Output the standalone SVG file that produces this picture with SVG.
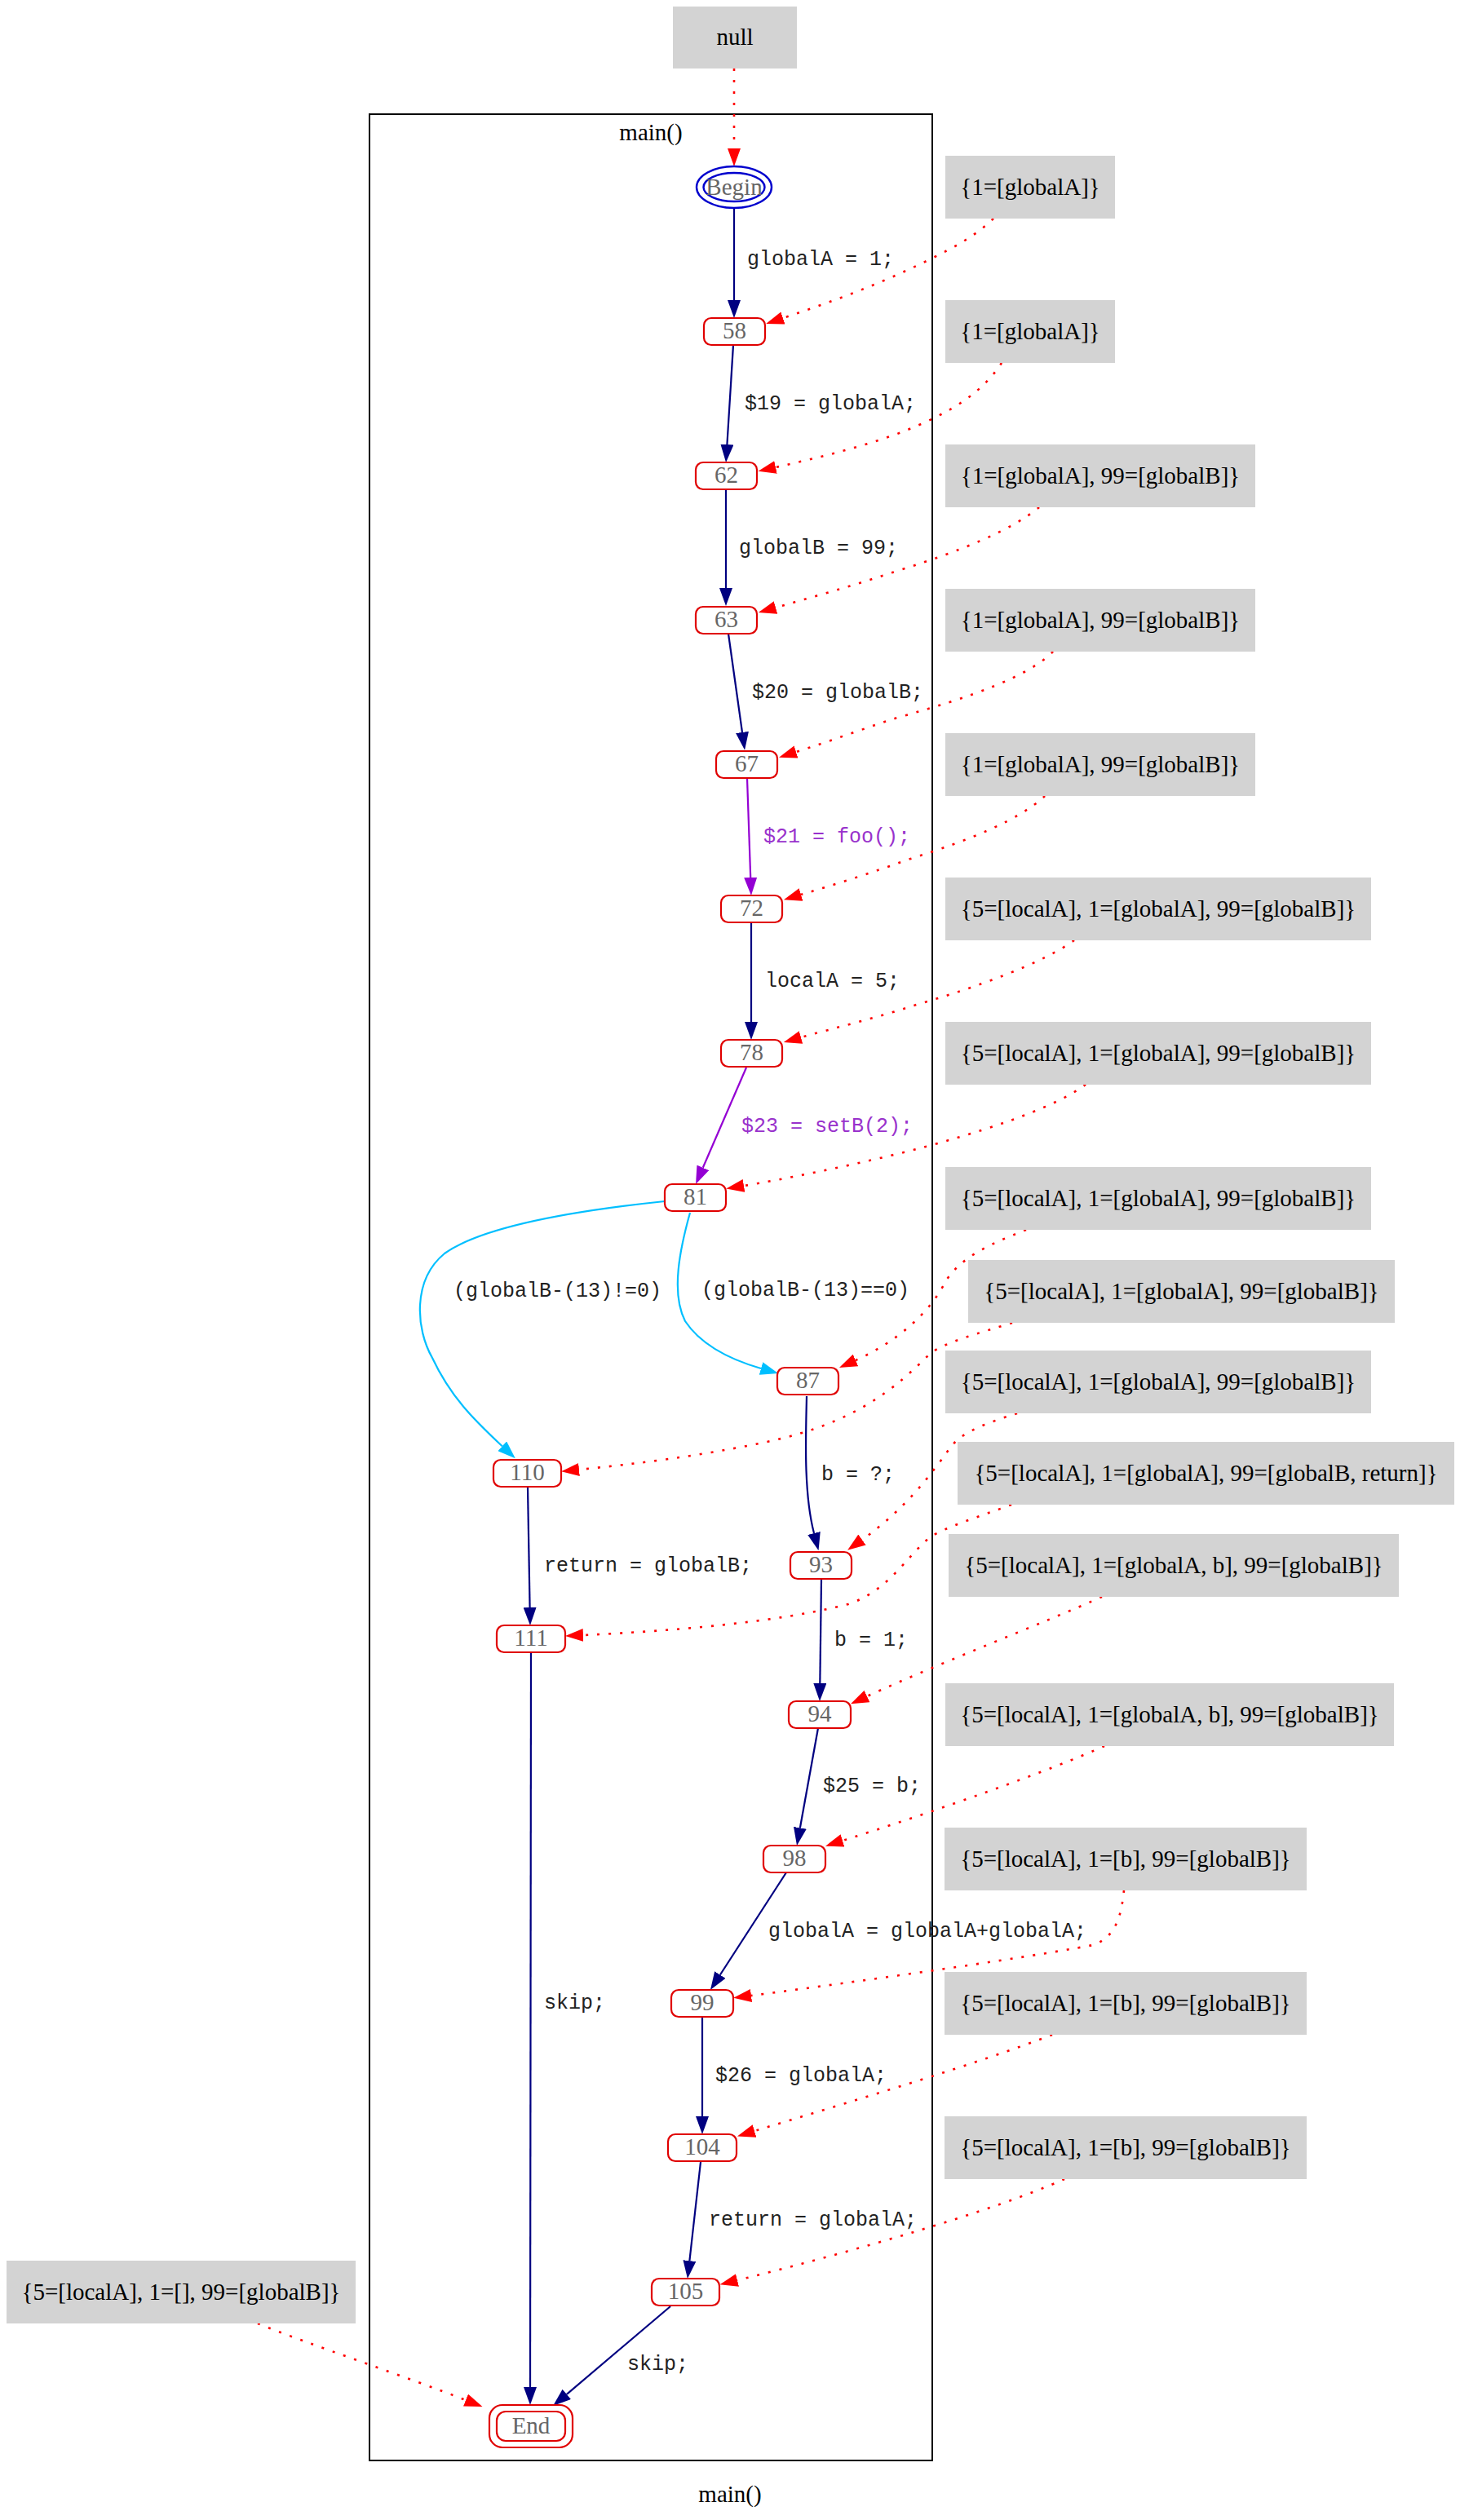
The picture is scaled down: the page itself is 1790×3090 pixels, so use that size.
<svg xmlns="http://www.w3.org/2000/svg" width="1790" height="3090" viewBox="0 0 1790 3090">
<style>
.bg{fill:#fff}
.cl{fill:none;stroke:#000;stroke-width:2}
.st rect{fill:#d3d3d3;stroke:none}
.st text{font-family:"Liberation Serif","Times New Roman",serif;font-size:29px;fill:#000;text-anchor:middle}
.nd rect{fill:#fff;stroke:#e00000;stroke-width:2.2}
.nd text,.be text{font-family:"Liberation Serif","Times New Roman",serif;font-size:29px;fill:#666;text-anchor:middle}
.be ellipse{fill:none;stroke:#0000cd;stroke-width:2.4}
.e{fill:none;stroke-width:2.2}
.nv{stroke:#000080}
.pu{stroke:#9400d3}
.cy{stroke:#00bfff}
.rd{stroke:#ff0000;stroke-width:2.6;stroke-dasharray:3 11}
.lb{font-family:"Liberation Mono","Courier New",monospace;font-size:25px;fill:#222}
.lp{font-family:"Liberation Mono","Courier New",monospace;font-size:25px;fill:#9932cc}
.ttl{font-family:"Liberation Serif","Times New Roman",serif;font-size:29px;fill:#000;text-anchor:middle}
</style>
<defs>
<marker id="aN" markerUnits="userSpaceOnUse" viewBox="0 0 22 16" refX="0" refY="8" markerWidth="22" markerHeight="16" orient="auto"><path d="M0,0 L22,8 L0,16 z" fill="#000080"/></marker>
<marker id="aP" markerUnits="userSpaceOnUse" viewBox="0 0 22 16" refX="0" refY="8" markerWidth="22" markerHeight="16" orient="auto"><path d="M0,0 L22,8 L0,16 z" fill="#9400d3"/></marker>
<marker id="aC" markerUnits="userSpaceOnUse" viewBox="0 0 22 16" refX="0" refY="8" markerWidth="22" markerHeight="16" orient="auto"><path d="M0,0 L22,8 L0,16 z" fill="#00bfff"/></marker>
<marker id="aR" markerUnits="userSpaceOnUse" viewBox="0 0 22 16" refX="0" refY="8" markerWidth="22" markerHeight="16" orient="auto"><path d="M0,0 L22,8 L0,16 z" fill="#ff0000"/></marker>
</defs>
<rect class="bg" x="0" y="0" width="1790" height="3090"/>

<g id="cluster_main">
<rect class="cl" x="453" y="140" width="690" height="2877"/>
<text class="ttl" x="798" y="172">main()</text>
</g>
<text class="ttl" x="895" y="3068">main()</text>

<g id="connectors">
<!-- solid control flow edges -->
<path class="e nv" d="M900,255 L900,368" marker-end="url(#aN)"/>
<path class="e nv" d="M899,423 L891.4,545" marker-end="url(#aN)"/>
<path class="e nv" d="M890,601 L890,721" marker-end="url(#aN)"/>
<path class="e nv" d="M893,777 L910,898" marker-end="url(#aN)"/>
<path class="e pu" d="M916,954 L920.2,1076" marker-end="url(#aP)"/>
<path class="e nv" d="M921,1132 L921,1253" marker-end="url(#aN)"/>
<path class="e pu" d="M915,1309 L861.8,1431.8" marker-end="url(#aP)"/>
<path class="e cy" d="M815,1473 C700,1485 590,1505 545,1537 C505,1570 510,1630 530,1665 C552,1712 580,1740 615.7,1773.3" marker-end="url(#aC)"/>
<path class="e cy" d="M846,1487 C834,1530 822,1585 840,1620 C860,1650 895,1667 933,1678" marker-end="url(#aC)"/>
<path class="e nv" d="M989,1712 C988,1760 985,1830 998,1880" marker-end="url(#aN)"/>
<path class="e nv" d="M1007,1937 L1005.3,2064" marker-end="url(#aN)"/>
<path class="e nv" d="M647,1824 L649.6,1971" marker-end="url(#aN)"/>
<path class="e nv" d="M651,2027 L650,2927" marker-end="url(#aN)"/>
<path class="e nv" d="M1003,2119 L980.9,2241.3" marker-end="url(#aN)"/>
<path class="e nv" d="M964,2296 L882.9,2421.5" marker-end="url(#aN)"/>
<path class="e nv" d="M861,2473 L861,2595" marker-end="url(#aN)"/>
<path class="e nv" d="M859,2651 L845.4,2772.1" marker-end="url(#aN)"/>
<path class="e nv" d="M822,2828 L694.8,2935.8" marker-end="url(#aN)"/>
<!-- dotted state edges -->
<path class="e rd" d="M900,84 L900,182" marker-end="url(#aR)"/>
<path class="e rd" d="M1218,268 C1195,290 1170,303 1140,318 C1080,348 1020,370 960,390" marker-end="url(#aR)"/>
<path class="e rd" d="M1228,445 C1205,480 1170,505 1100,532 C1050,550 1000,562 951,573" marker-end="url(#aR)"/>
<path class="e rd" d="M1274,622 C1240,650 1180,675 1100,700 C1050,717 1000,731 951,745" marker-end="url(#aR)"/>
<path class="e rd" d="M1291,799 C1260,830 1190,855 1100,880 C1060,893 1020,908 976,922" marker-end="url(#aR)"/>
<path class="e rd" d="M1281,976 C1250,1005 1190,1030 1110,1055 C1070,1070 1025,1084 982,1097" marker-end="url(#aR)"/>
<path class="e rd" d="M1317,1153 C1280,1180 1200,1210 1120,1233 C1075,1248 1025,1260 982,1272" marker-end="url(#aR)"/>
<path class="e rd" d="M1331,1330 C1290,1360 1200,1390 1100,1415 C1030,1432 960,1446 912,1454" marker-end="url(#aR)"/>
<path class="e rd" d="M1258,1508 C1215,1525 1180,1540 1160,1570 C1140,1610 1100,1645 1049,1668" marker-end="url(#aR)"/>
<path class="e rd" d="M1241,1622 C1200,1635 1160,1645 1140,1660 C1100,1700 1050,1745 940,1768 C860,1785 780,1795 710,1802" marker-end="url(#aR)"/>
<path class="e rd" d="M1247,1733 C1210,1745 1180,1755 1165,1775 C1140,1810 1110,1850 1057,1888" marker-end="url(#aR)"/>
<path class="e rd" d="M1240,1845 C1200,1860 1160,1872 1140,1885 C1110,1910 1090,1950 1040,1967 C950,1990 820,2000 715,2005" marker-end="url(#aR)"/>
<path class="e rd" d="M1351,1958 C1280,1990 1150,2040 1063,2080" marker-end="url(#aR)"/>
<path class="e rd" d="M1354,2141 C1290,2170 1150,2220 1033,2257" marker-end="url(#aR)"/>
<path class="e rd" d="M1378,2318 C1375,2345 1370,2375 1340,2385 C1250,2402 1050,2430 921,2447" marker-end="url(#aR)"/>
<path class="e rd" d="M1290,2495 C1200,2530 1050,2575 925,2613" marker-end="url(#aR)"/>
<path class="e rd" d="M1305,2672 C1220,2710 1050,2760 904,2796" marker-end="url(#aR)"/>
<path class="e rd" d="M316,2849 C380,2875 500,2915 571,2943" marker-end="url(#aR)"/>
<!-- edge labels -->
<text class="lb" x="916" y="325">globalA = 1;</text>
<text class="lb" x="913" y="502">$19 = globalA;</text>
<text class="lb" x="906" y="679">globalB = 99;</text>
<text class="lb" x="922" y="856">$20 = globalB;</text>
<text class="lp" x="936" y="1033">$21 = foo();</text>
<text class="lb" x="938" y="1210">localA = 5;</text>
<text class="lp" x="909" y="1388">$23 = setB(2);</text>
<text class="lb" x="556" y="1590">(globalB-(13)!=0)</text>
<text class="lb" x="860" y="1589">(globalB-(13)==0)</text>
<text class="lb" x="1007" y="1815">b = ?;</text>
<text class="lb" x="667" y="1927">return = globalB;</text>
<text class="lb" x="1023" y="2018">b = 1;</text>
<text class="lb" x="1009" y="2197">$25 = b;</text>
<text class="lb" x="942" y="2375">globalA = globalA+globalA;</text>
<text class="lb" x="667" y="2463">skip;</text>
<text class="lb" x="877" y="2552">$26 = globalA;</text>
<text class="lb" x="869" y="2729">return = globalA;</text>
<text class="lb" x="769" y="2906">skip;</text>
</g>

<g id="node_begin" class="be">
<ellipse cx="900" cy="229.5" rx="46" ry="25.5"/>
<ellipse cx="900" cy="229.5" rx="37.5" ry="17.5"/>
<text x="900" y="239">Begin</text>
</g>
<g id="node_58" class="nd"><rect x="863" y="390" width="75" height="33" rx="9"/><text x="900.5" y="415">58</text></g>
<g id="node_62" class="nd"><rect x="853" y="567" width="75" height="33" rx="9"/><text x="890.5" y="592">62</text></g>
<g id="node_63" class="nd"><rect x="853" y="744" width="75" height="33" rx="9"/><text x="890.5" y="769">63</text></g>
<g id="node_67" class="nd"><rect x="878" y="921" width="75" height="33" rx="9"/><text x="915.5" y="946">67</text></g>
<g id="node_72" class="nd"><rect x="884" y="1098" width="75" height="33" rx="9"/><text x="921.5" y="1123">72</text></g>
<g id="node_78" class="nd"><rect x="884" y="1275" width="75" height="33" rx="9"/><text x="921.5" y="1300">78</text></g>
<g id="node_81" class="nd"><rect x="815" y="1452" width="75" height="33" rx="9"/><text x="852.5" y="1477">81</text></g>
<g id="node_87" class="nd"><rect x="953" y="1677" width="75" height="33" rx="9"/><text x="990.5" y="1702">87</text></g>
<g id="node_110" class="nd"><rect x="605" y="1790" width="83" height="33" rx="9"/><text x="646.5" y="1815">110</text></g>
<g id="node_93" class="nd"><rect x="969" y="1903" width="75" height="33" rx="9"/><text x="1006.5" y="1928">93</text></g>
<g id="node_111" class="nd"><rect x="609" y="1993" width="84" height="33" rx="9"/><text x="651" y="2018">111</text></g>
<g id="node_94" class="nd"><rect x="967" y="2086" width="76" height="33" rx="9"/><text x="1005" y="2111">94</text></g>
<g id="node_98" class="nd"><rect x="936" y="2263" width="76" height="33" rx="9"/><text x="974" y="2288">98</text></g>
<g id="node_99" class="nd"><rect x="823" y="2440" width="76" height="33" rx="9"/><text x="861" y="2465">99</text></g>
<g id="node_104" class="nd"><rect x="819" y="2617" width="84" height="33" rx="9"/><text x="861" y="2642">104</text></g>
<g id="node_105" class="nd"><rect x="799" y="2794" width="83" height="33" rx="9"/><text x="840.5" y="2819">105</text></g>
<g id="node_end" class="nd">
<rect x="600" y="2949" width="102" height="52" rx="16"/>
<rect x="609" y="2957" width="84" height="36" rx="11"/>
<text x="651" y="2984">End</text>
</g>

<g id="state_null" class="st"><rect x="825" y="8" width="152" height="76"/><text x="901" y="55">null</text></g>
<g id="state_1" class="st"><rect x="1159" y="191" width="208" height="77"/><text x="1263" y="239">{1=[globalA]}</text></g>
<g id="state_2" class="st"><rect x="1159" y="368" width="208" height="77"/><text x="1263" y="416">{1=[globalA]}</text></g>
<g id="state_3" class="st"><rect x="1159" y="545" width="380" height="77"/><text x="1349" y="593">{1=[globalA], 99=[globalB]}</text></g>
<g id="state_4" class="st"><rect x="1159" y="722" width="380" height="77"/><text x="1349" y="770">{1=[globalA], 99=[globalB]}</text></g>
<g id="state_5" class="st"><rect x="1159" y="899" width="380" height="77"/><text x="1349" y="947">{1=[globalA], 99=[globalB]}</text></g>
<g id="state_6" class="st"><rect x="1159" y="1076" width="522" height="77"/><text x="1420" y="1124">{5=[localA], 1=[globalA], 99=[globalB]}</text></g>
<g id="state_7" class="st"><rect x="1159" y="1253" width="522" height="77"/><text x="1420" y="1301">{5=[localA], 1=[globalA], 99=[globalB]}</text></g>
<g id="state_8" class="st"><rect x="1159" y="1431" width="522" height="77"/><text x="1420" y="1479">{5=[localA], 1=[globalA], 99=[globalB]}</text></g>
<g id="state_9" class="st"><rect x="1187" y="1545" width="523" height="77"/><text x="1448.5" y="1593">{5=[localA], 1=[globalA], 99=[globalB]}</text></g>
<g id="state_10" class="st"><rect x="1159" y="1656" width="522" height="77"/><text x="1420" y="1704">{5=[localA], 1=[globalA], 99=[globalB]}</text></g>
<g id="state_11" class="st"><rect x="1174" y="1768" width="609" height="77"/><text x="1478.5" y="1816">{5=[localA], 1=[globalA], 99=[globalB, return]}</text></g>
<g id="state_12" class="st"><rect x="1163" y="1881" width="552" height="77"/><text x="1439" y="1929">{5=[localA], 1=[globalA, b], 99=[globalB]}</text></g>
<g id="state_13" class="st"><rect x="1159" y="2064" width="550" height="77"/><text x="1434" y="2112">{5=[localA], 1=[globalA, b], 99=[globalB]}</text></g>
<g id="state_14" class="st"><rect x="1158" y="2241" width="444" height="77"/><text x="1380" y="2289">{5=[localA], 1=[b], 99=[globalB]}</text></g>
<g id="state_15" class="st"><rect x="1158" y="2418" width="444" height="77"/><text x="1380" y="2466">{5=[localA], 1=[b], 99=[globalB]}</text></g>
<g id="state_16" class="st"><rect x="1158" y="2595" width="444" height="77"/><text x="1380" y="2643">{5=[localA], 1=[b], 99=[globalB]}</text></g>
<g id="state_17" class="st"><rect x="8" y="2772" width="428" height="77"/><text x="222" y="2820">{5=[localA], 1=[], 99=[globalB]}</text></g>
</svg>
